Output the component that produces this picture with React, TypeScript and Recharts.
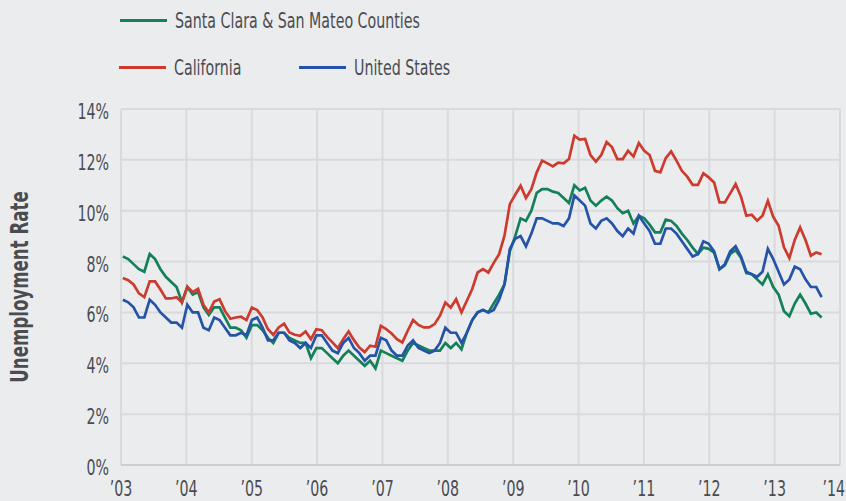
import React from "react";
import { LineChart, Line, XAxis, YAxis, CartesianGrid, Label } from "recharts";

// Monthly unemployment rates (not seasonally adjusted), Jan 2003 – Nov 2013
const SANTA_CLARA_SAN_MATEO = [
  8.2, 8.1, 7.9, 7.7, 7.6, 8.3, 8.1, 7.7, 7.4, 7.2, 7.0, 6.4,
  7.0, 6.7, 6.8, 6.2, 5.9, 6.2, 6.2, 5.8, 5.4, 5.4, 5.3, 5.0,
  5.5, 5.5, 5.3, 5.0, 4.8, 5.2, 5.2, 5.0, 4.9, 4.8, 4.8, 4.2,
  4.6, 4.6, 4.4, 4.2, 4.0, 4.3, 4.5, 4.3, 4.1, 3.9, 4.1, 3.8,
  4.5, 4.4, 4.3, 4.2, 4.1, 4.5, 4.8, 4.7, 4.6, 4.5, 4.5, 4.5,
  4.8, 4.6, 4.8, 4.55, 5.2, 5.7, 6.0, 6.1, 6.0, 6.35, 6.7, 7.1,
  8.4, 9.0, 9.7, 9.6, 10.0, 10.7, 10.85, 10.85, 10.75, 10.7, 10.5, 10.3,
  11.0, 10.8, 10.9, 10.4, 10.2, 10.4, 10.55, 10.4, 10.1, 9.9, 10.0, 9.5,
  9.8, 9.7, 9.45, 9.15, 9.15, 9.65, 9.6, 9.4, 9.1, 8.85, 8.55, 8.3,
  8.55, 8.5, 8.35, 7.7, 7.85, 8.3, 8.45, 8.15, 7.55, 7.5, 7.3, 7.1,
  7.5, 7.0, 6.7, 6.05, 5.85, 6.35, 6.7, 6.35, 5.95, 6.0, 5.8,
];

const CALIFORNIA = [
  7.35, 7.27, 7.1, 6.75, 6.6, 7.22, 7.22, 6.9, 6.55, 6.55, 6.6, 6.4,
  7.0, 6.8, 6.93, 6.3, 6.0, 6.43, 6.52, 6.06, 5.75, 5.8, 5.83, 5.7,
  6.19, 6.09, 5.8, 5.34, 5.12, 5.41, 5.56, 5.21, 5.12, 5.08, 5.25, 4.95,
  5.34, 5.3, 5.04, 4.82, 4.59, 4.95, 5.25, 4.91, 4.62, 4.44, 4.69, 4.65,
  5.47, 5.34, 5.17, 4.95, 4.82, 5.28, 5.7, 5.51, 5.41, 5.41, 5.54, 5.87,
  6.39, 6.19, 6.52, 6.0, 6.46, 6.92, 7.57, 7.7, 7.57, 7.95, 8.29, 9.02,
  10.26, 10.63, 10.98, 10.5, 10.85, 11.51, 11.97, 11.86, 11.74, 11.89, 11.86, 12.03,
  12.95, 12.8, 12.82, 12.19, 11.93, 12.19, 12.7, 12.5, 12.03, 12.03, 12.36, 12.13,
  12.66, 12.36, 12.19, 11.57, 11.51, 12.07, 12.33, 11.97, 11.57, 11.34, 11.02, 11.02,
  11.47, 11.31, 11.11, 10.33, 10.33, 10.68, 11.05, 10.55, 9.8, 9.84, 9.61, 9.8,
  10.39, 9.76, 9.41, 8.56, 8.14, 8.85, 9.34, 8.85, 8.23, 8.36, 8.29,
];

const UNITED_STATES = [
  6.5, 6.4, 6.2, 5.8, 5.8, 6.5, 6.3, 6.0, 5.8, 5.6, 5.6, 5.4,
  6.3, 6.0, 6.0, 5.4, 5.3, 5.8, 5.7, 5.4, 5.1, 5.1, 5.2, 5.1,
  5.7, 5.8, 5.4, 4.9, 4.9, 5.2, 5.2, 4.9, 4.8, 4.6, 4.8, 4.6,
  5.1, 5.1, 4.8, 4.5, 4.4, 4.8, 5.0, 4.6, 4.4, 4.1, 4.3, 4.3,
  5.0, 4.9, 4.5, 4.3, 4.3, 4.7, 4.9, 4.6, 4.5, 4.4, 4.5, 4.8,
  5.4, 5.2, 5.2, 4.8, 5.2, 5.7, 6.0, 6.1, 6.0, 6.1, 6.5, 7.1,
  8.5, 8.9, 9.0, 8.6, 9.1, 9.7, 9.7, 9.6, 9.5, 9.5, 9.4, 9.7,
  10.6, 10.4, 10.2, 9.5, 9.3, 9.6, 9.7, 9.5, 9.2, 9.0, 9.3, 9.1,
  9.8, 9.5, 9.2, 8.7, 8.7, 9.3, 9.3, 9.1, 8.8, 8.5, 8.2, 8.3,
  8.8, 8.7, 8.4, 7.7, 7.9, 8.4, 8.6, 8.2, 7.6, 7.5, 7.4, 7.6,
  8.5, 8.1, 7.6, 7.1, 7.3, 7.8, 7.7, 7.3, 7.0, 7.0, 6.6,
];

const YEAR_LABELS = ["’03", "’04", "’05", "’06", "’07", "’08", "’09", "’10", "’11", "’12", "’13", "’14"];
const Y_TICKS = [0, 2, 4, 6, 8, 10, 12, 14];

const SERIES = [
  { key: "sc", name: "Santa Clara & San Mateo Counties", color: "#13805a" },
  { key: "ca", name: "California", color: "#cc3b2d" },
  { key: "us", name: "United States", color: "#2553a8" },
];

// x-axis domain in month-index units (year gridlines are spaced slightly wider than 12 months in the source)
const X_START = -0.34;
const X_END = 133.42;
const X_STEP = (X_END - X_START) / (YEAR_LABELS.length - 1);
const X_TICKS = YEAR_LABELS.map((_, k) => X_START + k * X_STEP);

const data = UNITED_STATES.map((us, i) => ({
  i,
  sc: SANTA_CLARA_SAN_MATEO[i],
  ca: CALIFORNIA[i],
  us,
}));

const FONT = '"Liberation Sans Narrow", "Arial Narrow", "DejaVu Sans Condensed", sans-serif';
const TEXT = "#4a4c51";
const BG = "#ebecee";
const GRID = "#d9dadc";
const FS = 21.5;
const SX = 0.735; // horizontal condensing to mimic the narrow source typeface

function LegendItem({ color, name, left, top }: { color: string; name: string; left: number; top: number }) {
  return (
    <div style={{ position: "absolute", left, top, height: 40, display: "flex", alignItems: "center" }}>
      <div style={{ width: 47, height: 3, background: color, marginRight: 8 }} />
      <span
        style={{
          fontFamily: FONT,
          fontSize: FS,
          color: TEXT,
          whiteSpace: "nowrap",
          display: "inline-block",
          transform: `scaleX(${SX})`,
          transformOrigin: "left center",
        }}
      >
        {name}
      </span>
    </div>
  );
}

function XTick(props: any) {
  const { x, y, payload } = props;
  const k = Math.round((payload.value - X_START) / X_STEP);
  const last = k === YEAR_LABELS.length - 1;
  const tx = last ? x + 5 : x;
  return (
    <g transform={`translate(${tx},${y}) scale(${SX},1)`}>
      <text x={0} y={0} textAnchor={last ? "end" : "middle"} dominantBaseline="central" fill={TEXT} fontFamily={FONT} fontSize={FS}>
        {YEAR_LABELS[k]}
      </text>
    </g>
  );
}

function YTick(props: any) {
  const { x, y, payload } = props;
  return (
    <g transform={`translate(${x},${y + 2}) scale(${SX},1)`}>
      <text x={0} y={0} textAnchor="end" dominantBaseline="central" fill={TEXT} fontFamily={FONT} fontSize={FS}>
        {`${payload.value}%`}
      </text>
    </g>
  );
}

export default function App() {
  return (
    <div style={{ position: "absolute", left: 0, top: 0, width: 846, height: 501, background: BG, overflow: "hidden" }}>
      <LegendItem color={SERIES[0].color} name={SERIES[0].name} left={120} top={0} />
      <LegendItem color={SERIES[1].color} name={SERIES[1].name} left={119} top={47} />
      <LegendItem color={SERIES[2].color} name={SERIES[2].name} left={299} top={47} />
      <LineChart width={846} height={501} data={data} margin={{ top: 109, right: 6, bottom: 0, left: 0 }}>
        <CartesianGrid stroke={GRID} strokeWidth={2} />
        <XAxis
          dataKey="i"
          type="number"
          domain={[X_START, X_END]}
          ticks={X_TICKS}
          interval={0}
          height={36}
          tickLine={false}
          tickSize={0}
          tickMargin={23}
          axisLine={{ stroke: "#cdced0", strokeWidth: 2 }}
          tick={<XTick />}
        />
        <YAxis
          type="number"
          domain={[0, 14]}
          ticks={Y_TICKS}
          interval={0}
          width={121}
          axisLine={false}
          tickLine={false}
          tickSize={0}
          tickMargin={12}
          tick={<YTick />}
        >
          <Label
            content={(props: any) => {
              const vb = props.viewBox || { x: 0, y: 109, width: 121, height: 356 };
              const cx = vb.x + 19;
              const cy = vb.y + vb.height / 2;
              return (
                <g transform={`translate(${cx},${cy}) rotate(-90) scale(0.74,1)`}>
                  <text
                    x={0}
                    y={0}
                    textAnchor="middle"
                    dominantBaseline="central"
                    fill={TEXT}
                    fontFamily={FONT}
                    fontSize={25}
                    fontWeight={700}
                  >
                    Unemployment Rate
                  </text>
                </g>
              );
            }}
          />
        </YAxis>
        {SERIES.map((s) => (
          <Line
            key={s.key}
            dataKey={s.key}
            name={s.name}
            type="linear"
            stroke={s.color}
            strokeWidth={2.7}
            dot={false}
            activeDot={false}
            isAnimationActive={false}
          />
        ))}
      </LineChart>
    </div>
  );
}
